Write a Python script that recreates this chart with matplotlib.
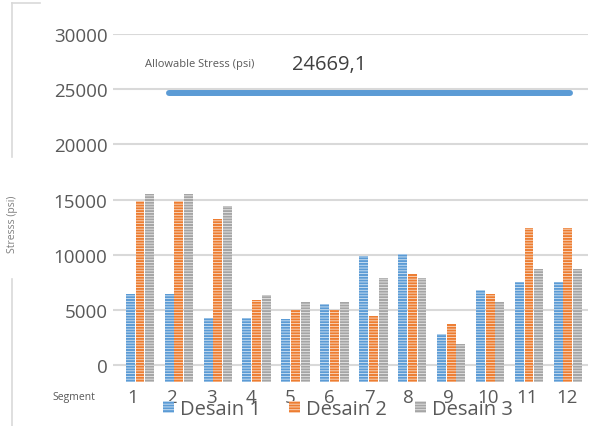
import numpy as np
import matplotlib.pyplot as plt
from matplotlib.patches import Patch
from matplotlib.lines import Line2D

plt.rcParams['font.family'] = ['Open Sans', 'DejaVu Sans']
plt.rcParams['hatch.linewidth'] = 0.6

segments = ['1', '2', '3', '4', '5', '6', '7', '8', '9', '10', '11', '12']
desain_1 = [6400, 6400, 4300, 4300, 4150, 5500, 9900, 10100, 2800, 6800, 7500, 7500]
desain_2 = [14900, 14900, 13200, 5900, 5000, 5000, 4400, 8250, 3700, 6400, 12400, 12400]
desain_3 = [15500, 15500, 14400, 6300, 5700, 5700, 7900, 7900, 1900, 5700, 8700, 8700]
allowable = 24669.1

series = [('Desain 1', desain_1, '#5B9BD5'),
          ('Desain 2', desain_2, '#ED7D31'),
          ('Desain 3', desain_3, '#A5A5A5')]
stripe = (1, 1, 1, 0.75)

fig = plt.figure(figsize=(6.11, 4.27), dpi=100)
ax = fig.add_axes([113 / 611, 1 - 383 / 427, 475 / 611, 348 / 427])

y0 = -1540
x = np.arange(len(segments))
w = 0.23
for k, (name, vals, col) in enumerate(series):
    vals = np.array(vals, dtype=float)
    ax.bar(x + (k - 1) * 0.25, vals - y0, bottom=y0, width=w, color=col,
           edgecolor=stripe, linewidth=0, hatch='------', zorder=3)

# allowable stress line
ax.hlines(allowable, 0.74, 11.05, color='#5B9BD5', linewidth=4.3,
          capstyle='round', zorder=4)
ax.text(0.13, 27300, 'Allowable Stress (psi)', fontsize=8, color='#595959',
        va='center', ha='left')
ax.text(3.9, 27300, '24669,1', fontsize=14.5, color='#404040',
        va='center', ha='left')

ax.set_xlim(-0.694, 11.517)
ax.set_ylim(y0, 30000)
ax.set_yticks(np.arange(0, 30001, 5000))
ax.yaxis.grid(True, color='#D9D9D9', linewidth=1.5, zorder=0)
ax.set_axisbelow(True)
ax.set_xticks(np.linspace(-0.2, 10.97, 12))
ax.set_xticklabels(segments)
ax.tick_params(axis='both', length=0, labelsize=13.5, labelcolor='#595959')
ax.tick_params(axis='x', pad=4)
ax.tick_params(axis='y', pad=4)
for s in ax.spines.values():
    s.set_visible(False)

fig.text(52 / 611, 1 - 398 / 427, 'Segment', fontsize=7.5, color='#595959',
         va='center', ha='left')
fig.text(12 / 611, 1 - 224 / 427, 'Stresss (psi)', fontsize=7.5,
         color='#7F7F7F', rotation=90, va='center', ha='center')

# frame fragments on the left
fig.add_artist(Line2D([12 / 611, 12 / 611], [1 - 4 / 427, 1 - 158 / 427],
                      color='#D9D9D9', linewidth=1.2))
fig.add_artist(Line2D([12 / 611, 12 / 611], [1 - 280 / 427, 0],
                      color='#D9D9D9', linewidth=1.2))
fig.add_artist(Line2D([12 / 611, 40 / 611], [1 - 4 / 427, 1 - 4 / 427],
                      color='#D9D9D9', linewidth=1.2))

handles = [Patch(facecolor=c, edgecolor=stripe, linewidth=0, hatch='------',
                 label=n) for n, _, c in series]
fig.legend(handles=handles, loc='center', ncol=3,
           bbox_to_anchor=(338 / 611, 1 - 410 / 427), frameon=False,
           fontsize=14.5, labelcolor='#595959', handlelength=0.55,
           handleheight=0.55, handletextpad=0.3, columnspacing=1.4,
           borderpad=0, borderaxespad=0)

fig.savefig('out.png', dpi=100)
